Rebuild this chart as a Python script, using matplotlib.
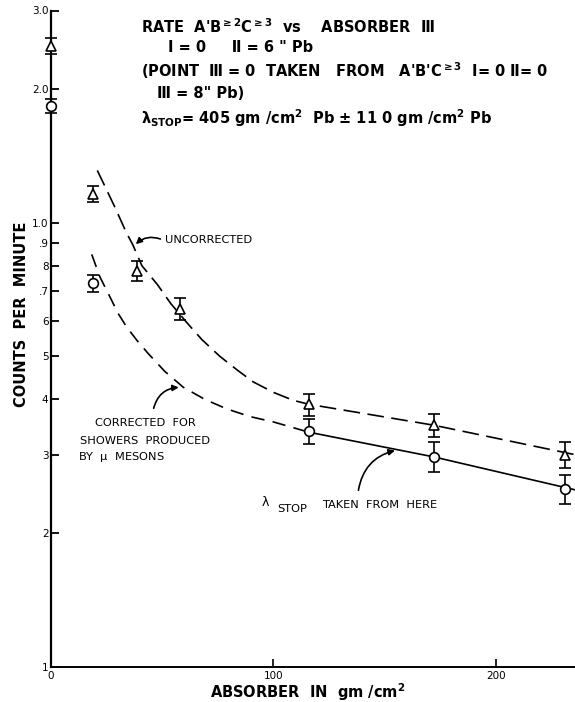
import matplotlib
matplotlib.use("Agg")
import matplotlib.pyplot as plt
from matplotlib.ticker import FixedLocator, FixedFormatter, NullLocator

plt.rcParams['font.family'] = ['DejaVu Sans', 'Noto Sans CJK JP']
plt.rcParams['mathtext.default'] = 'regular'

# measured rates, uncorrected (triangles) and corrected (circles)
tri_x = [0, 19, 39, 58, 116, 172, 231]
tri_y = [2.50, 1.16, 0.78, 0.64, 0.39, 0.35, 0.30]
tri_err = [0.10, 0.05, 0.04, 0.035, 0.022, 0.02, 0.02]

circ_x = [0, 19, 116, 172, 231]
circ_y = [1.83, 0.73, 0.34, 0.297, 0.252]
circ_err = [0.07, 0.033, 0.022, 0.023, 0.019]

# hand-drawn curves through the points
unc_x = [21, 25, 29, 34, 37, 41, 48, 54, 61, 68, 76, 84, 91, 100, 109, 116, 172, 236]
unc_y = [1.31, 1.19, 1.08, 0.95, 0.89, 0.80, 0.725, 0.657, 0.597, 0.545, 0.50,
         0.465, 0.438, 0.415, 0.398, 0.39, 0.35, 0.30]

cor_x = [18.5, 22.2, 26.7, 30.3, 34.2, 38.8, 43.9, 51.3, 59.6, 69.3, 79, 89.5, 100, 116]
cor_y = [0.848, 0.754, 0.680, 0.625, 0.582, 0.543, 0.507, 0.4625, 0.426, 0.400,
         0.381, 0.366, 0.356, 0.3375]
cor_solid_x = [116, 172, 236]
cor_solid_y = [0.3375, 0.297, 0.25]

ytick_vals = [0.1, 0.2, 0.3, 0.4, 0.5, 0.6, 0.7, 0.8, 0.9, 1.0, 2.0, 3.0]
ytick_labels = ['1', '2', '3', '4', '5', '6', '.7', '8', '.9', '1.0', '2.0', '3.0']
xtick_vals = [0, 100, 200]
xtick_labels = ['0', '100', '200']

W, H = 575, 702


def fpos(x, y):
    # pixel position (from top-left) -> figure fraction
    return x / W, 1 - y / H


fig = plt.figure(figsize=(W / 100, H / 100), dpi=100)
ax = fig.add_axes([50.5 / W, 35 / H, (W - 50.5) / W, 656.5 / H])
ax.set_yscale('log')
ax.set_ylim(0.1, 3.0)
ax.set_xlim(0, 235.4)

for s in ['top', 'right']:
    ax.spines[s].set_visible(False)
ax.spines['left'].set_linewidth(1.6)
ax.spines['bottom'].set_linewidth(1.4)

ax.yaxis.set_major_locator(FixedLocator(ytick_vals))
ax.yaxis.set_major_formatter(FixedFormatter(ytick_labels))
ax.yaxis.set_minor_locator(NullLocator())
ax.set_xticks(xtick_vals)
ax.set_xticklabels(xtick_labels)
ax.tick_params(axis='y', direction='in', length=6, width=1.3, pad=1.5, labelsize=7.5)
ax.tick_params(axis='x', direction='in', length=6, width=1.2, pad=3, labelsize=7.5)

# curves
ax.plot(unc_x, unc_y, color='black', lw=1.2, dashes=(10, 4.5), clip_on=False)
ax.plot(cor_x, cor_y, color='black', lw=1.2, dashes=(8, 5))
ax.plot(cor_solid_x, cor_solid_y, color='black', lw=1.2, clip_on=False)

# data points
ax.errorbar(tri_x, tri_y, yerr=tri_err, fmt='^', ms=7, mfc='white', mec='black',
            mew=1.2, ecolor='black', elinewidth=1.2, capsize=4, capthick=1.2,
            clip_on=False, zorder=4)
ax.errorbar(circ_x, circ_y, yerr=circ_err, fmt='o', ms=7, mfc='white', mec='black',
            mew=1.2, ecolor='black', elinewidth=1.2, capsize=4, capthick=1.2,
            clip_on=False, zorder=4)

# axis labels
fig.text(*fpos(22, 314), 'COUNTS  PER  MINUTE', rotation=90, ha='center',
         va='center', fontsize=10.5, fontweight='bold')
fig.text(*fpos(308, 692), 'ABSORBER  IN  gm /cm$^2$', ha='center', va='center',
         fontsize=10.5, fontweight='bold')

# title block
tkw = dict(ha='left', va='center', fontsize=10.5, fontweight='bold')
fig.text(*fpos(141, 27), "RATE  A'B$^{\\geq 2}$C$^{\\geq 3}$  vs    ABSORBER  Ⅲ", **tkw)
fig.text(*fpos(168, 48), 'Ⅰ = 0     Ⅱ = 6 " Pb', **tkw)
fig.text(*fpos(141, 71), "(POINT  Ⅲ = 0  TAKEN   FROM   A'B'C$^{\\geq 3}$  Ⅰ= 0 Ⅱ= 0", **tkw)
fig.text(*fpos(157, 94), 'Ⅲ = 8" Pb)', **tkw)
fig.text(*fpos(141, 118), "$\\mathbf{\\lambda}_{STOP}$= 405 gm /cm$^2$  Pb \u00b1 11 0 gm /cm$^2$ Pb",
         **tkw)

akw = dict(fontsize=8.2)
aprops = dict(arrowstyle='-|>', color='black', lw=1.2, mutation_scale=9)

# uncorrected label
fig.text(*fpos(165, 240), 'UNCORRECTED', ha='left', va='center', **akw)
ax.annotate('', xy=(37.4, 0.885), xycoords='data',
            xytext=fpos(163, 240), textcoords='figure fraction',
            arrowprops=dict(connectionstyle='arc3,rad=0.35', **aprops))

# corrected label
fig.text(*fpos(145, 423), 'CORRECTED  FOR', ha='center', va='center', **akw)
fig.text(*fpos(145, 441), 'SHOWERS  PRODUCED', ha='center', va='center', **akw)
fig.text(*fpos(78, 457), 'BY  $\\mu$  MESONS', ha='left', va='center', **akw)
ax.annotate('', xy=(58.8, 0.426), xycoords='data',
            xytext=fpos(153, 411), textcoords='figure fraction',
            arrowprops=dict(connectionstyle='arc3,rad=-0.4', **aprops))

# lambda stop label
fig.text(*fpos(262, 503), '\u03bb', ha='left', va='center', fontsize=9)
fig.text(*fpos(277, 509), 'STOP', ha='left', va='center', **akw)
fig.text(*fpos(322, 505), 'TAKEN  FROM  HERE', ha='left', va='center', **akw)
ax.annotate('', xy=(155.8, 0.308), xycoords='data',
            xytext=fpos(358, 493), textcoords='figure fraction',
            arrowprops=dict(connectionstyle='arc3,rad=-0.35', **aprops))

fig.savefig('out.png', dpi=100)
